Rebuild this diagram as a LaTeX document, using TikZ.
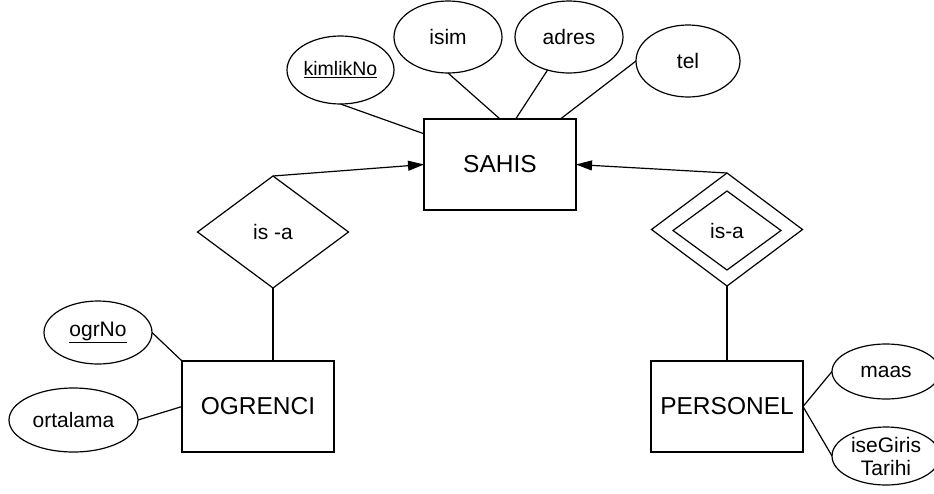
\documentclass[tikz,border=0pt]{standalone}
\usepackage{fontspec}
\setmainfont{Liberation Sans}
\usetikzlibrary{shapes.geometric,arrows.meta}
\begin{document}
\begin{tikzpicture}[x=1pt,y=-1pt,
  every node/.style={inner sep=0pt, outer sep=0pt},
  conn/.style={line width=1.2pt},
  entity/.style={draw, line width=1.2pt, rectangle, minimum width=152pt, minimum height=91pt, font=\fontsize{24.5}{28}\selectfont},
  attr/.style={draw, line width=1.2pt, ellipse, font=\fontsize{21}{23}\selectfont, align=center},
  rel/.style={draw, line width=1.2pt, diamond, minimum width=151pt, minimum height=112pt, font=\fontsize{21}{24}\selectfont},
  isarrow/.style={line width=1.2pt, -{Triangle[length=16pt,width=10pt]}}
]
\useasboundingbox (0,0) rectangle (934,493);

% entities
\node[entity] (sahis) at (500,164.5) {SAHIS};
\node[entity] (ogrenci) at (258,406.5) {OGRENCI};
\node[entity] (personel) at (727,406.5) {PERSONEL};

% attributes
\node[attr, minimum width=107pt, minimum height=68pt, font=\fontsize{19.5}{22}\selectfont] (kimlik) at (340.5,70) {\underline{kimlikNo}};
\node[attr, minimum width=108pt, minimum height=72pt] (isim) at (448,37) {isim};
\node[attr, minimum width=108pt, minimum height=72pt] (adres) at (569,37) {adres};
\node[attr, minimum width=104pt, minimum height=72pt] (tel) at (688,61) {tel};
\node[attr, minimum width=108pt, minimum height=63pt] (ogrno) at (98,332.5) {\underline{ogrNo}};
\node[attr, minimum width=129pt, minimum height=64pt] (ortalama) at (73.5,420) {ortalama};
\node[attr, minimum width=108pt, minimum height=55pt] (maas) at (886,371.5) {maas};
\node[attr, minimum width=108pt, minimum height=58pt] (isegiris) at (886,456) {iseGiris\\Tarihi};

% relationships
\node[rel] (isa1) at (273,232) {is -a};
\node[rel, minimum height=113pt] (isa2) at (727,229.5) {};
\node[rel, minimum width=108pt, minimum height=79pt] (isa2in) at (727,230.5) {is-a};

% connectors
\draw[conn] (kimlik.south) -- (sahis.158);
\draw[conn] (isim.south) -- (sahis.north);
\draw[conn] (adres.237) -- (sahis.71);
\draw[conn] (tel.west) -- (sahis.37);
\draw[isarrow] (isa1.north) -- (sahis.west);
\draw[isarrow] (isa2.north) -- (sahis.east);
\draw[conn] (isa1.south) -- (isa1.south |- ogrenci.north);
\draw[conn] (isa2.south) -- (personel.north);
\draw[conn] (ogrno.east) -- (ogrenci.north west);
\draw[conn] (ortalama.east) -- (ogrenci.west);
\draw[conn] (personel.east) -- (maas.west);
\draw[conn] (personel.east) -- (isegiris.west);
\end{tikzpicture}
\end{document}
